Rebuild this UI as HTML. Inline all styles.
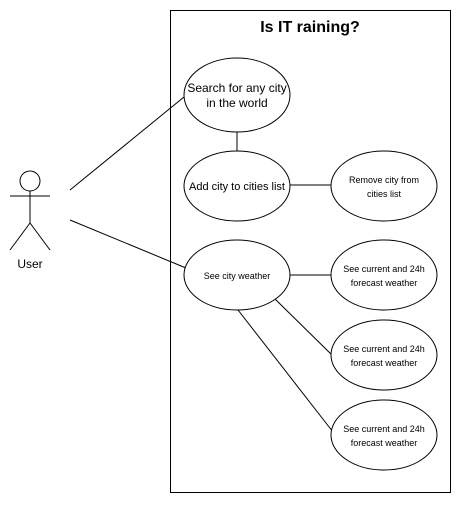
<!DOCTYPE html>
<html><head><style>body{margin:0;background:#fff}</style></head><body>
<svg width="462" height="501" xmlns="http://www.w3.org/2000/svg" font-family="Liberation Sans, sans-serif">
<rect width="462" height="501" fill="#fff"/>
<rect x="170.5" y="10.5" width="280" height="482" fill="none" stroke="#000"/>
<text x="310" y="32" text-anchor="middle" font-size="16" font-weight="bold">Is IT raining?</text>
<g stroke="#000" fill="none">
<circle cx="30" cy="181" r="10"/>
<line x1="10" y1="196" x2="50" y2="196"/>
<line x1="30" y1="191" x2="30" y2="223"/>
<line x1="30" y1="223" x2="10" y2="250"/>
<line x1="30" y1="223" x2="50" y2="250"/>
<line x1="70" y1="190" x2="184" y2="97"/>
<line x1="70" y1="220" x2="186" y2="268"/>
<line x1="237" y1="132" x2="237" y2="151"/>
<line x1="290" y1="185" x2="331" y2="185"/>
<line x1="290" y1="275" x2="331" y2="275"/>
<line x1="275" y1="299" x2="334" y2="357"/>
<line x1="238" y1="310" x2="333" y2="432"/>
</g>
<g stroke="#000" fill="#fff">
<ellipse cx="237" cy="95" rx="53" ry="37"/>
<ellipse cx="237" cy="186" rx="53" ry="35"/>
<ellipse cx="384" cy="186" rx="53" ry="35"/>
<ellipse cx="237" cy="275" rx="53" ry="35"/>
<ellipse cx="384" cy="275" rx="53" ry="35"/>
<ellipse cx="384" cy="355" rx="53" ry="35"/>
<ellipse cx="384" cy="435" rx="53" ry="35"/>
</g>
<g font-size="12" text-anchor="middle" fill="#000">
<text x="237" y="92">Search for any city</text>
<text x="237" y="107">in the world</text>
<text x="237" y="190" font-size="11">Add city to cities list</text>
<text x="30" y="268" font-size="12">User</text>
</g>
<g font-size="9" text-anchor="middle" fill="#000">
<text x="384" y="183">Remove city from</text>
<text x="384" y="197">cities list</text>
<text x="237" y="279">See city weather</text>
<text x="384" y="272">See current and 24h</text>
<text x="384" y="286">forecast weather</text>
<text x="384" y="352">See current and 24h</text>
<text x="384" y="366">forecast weather</text>
<text x="384" y="432">See current and 24h</text>
<text x="384" y="446">forecast weather</text>
</g>
</svg>
</body></html>
